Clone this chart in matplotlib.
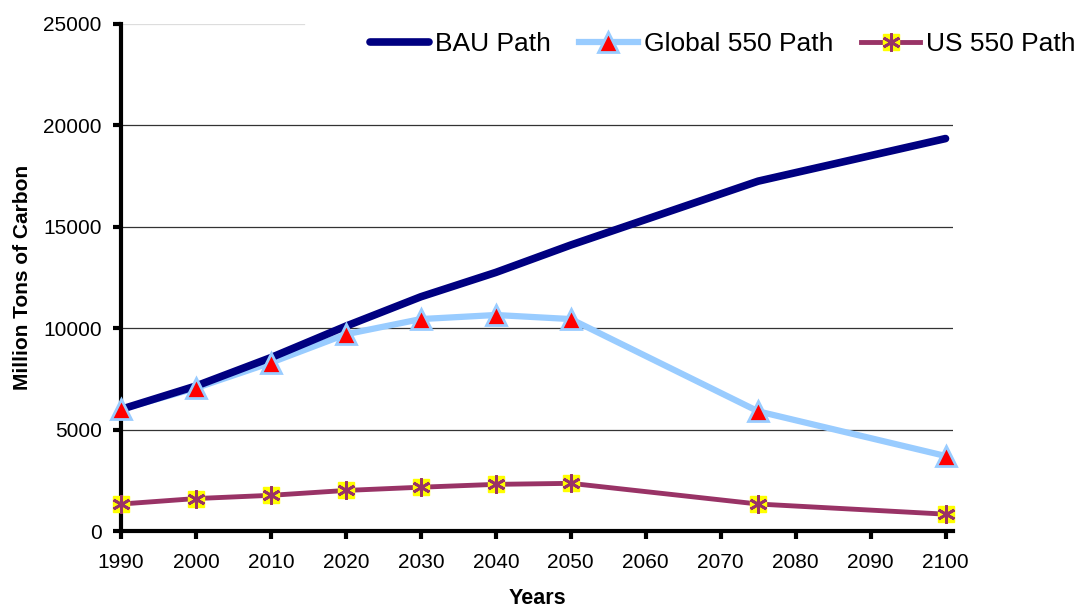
import matplotlib.pyplot as plt
from matplotlib.lines import Line2D

plt.rcParams['font.family'] = ['Liberation Sans', 'DejaVu Sans']

# data (million tons of carbon)
years = [1990, 2000, 2010, 2020, 2030, 2040, 2050, 2075, 2100]
bau = [6000, 7150, 8550, 10100, 11550, 12750, 14100, 17250, 19350]
global_550 = [6000, 7050, 8300, 9700, 10450, 10650, 10450, 5900, 3700]
us_550 = [1330, 1600, 1760, 2000, 2160, 2300, 2350, 1330, 830]

x_ticks = list(range(1990, 2101, 10))
y_ticks = [0, 5000, 10000, 15000, 20000, 25000]

navy = '#000080'
light_blue = '#99CCFF'
purple = '#993366'

fig = plt.figure(figsize=(10.81, 6.07), dpi=100)
ax = fig.add_axes([0.1120, 0.1252, 0.7696, 0.8353])

# lines first, markers on top (like Excel does)
ax.plot(years, global_550, color=light_blue, lw=4.5, zorder=3, solid_joinstyle='round')
ax.plot(years, bau, color=navy, lw=5.5, zorder=4, solid_capstyle='round')
ax.plot(years, us_550, color=purple, lw=3.5, zorder=3)

ax.plot(years, global_550, ls='none', marker='^', ms=14, mfc='red',
        mec=light_blue, mew=2, zorder=9, clip_on=False)
ax.plot(years, us_550, ls='none', marker='s', ms=11, mfc='#FFFF00',
        mec='#FFFF00', zorder=9, clip_on=False)
ax.plot(years, us_550, ls='none', marker=(6, 2, 0), ms=13, mec=purple,
        mew=2, zorder=10, clip_on=False)

ax.set_xlim(1990, 2101)
ax.set_ylim(0, 25000)
ax.set_xticks(x_ticks)
ax.set_yticks(y_ticks)

for y in y_ticks[1:-1]:
    ax.axhline(y, color='#333333', lw=0.9, zorder=1)
ax.axhline(25000, xmax=0.22, color='#dddddd', lw=0.9, zorder=1)

for side in ['top', 'right']:
    ax.spines[side].set_visible(False)
for side in ['left', 'bottom']:
    ax.spines[side].set_linewidth(3)
    ax.spines[side].set_zorder(8)
ax.tick_params(axis='both', length=6, width=3, labelsize=15)
ax.tick_params(axis='x', pad=10)
ax.tick_params(axis='y', pad=8)

ax.set_ylabel('Million Tons of Carbon', fontsize=15, fontweight='bold', labelpad=8)
ax.set_xlabel('Years', fontsize=15.5, fontweight='bold', labelpad=11)

# legend handles
h_bau = Line2D([], [], color=navy, lw=5.5, solid_capstyle='round')
h_glob = Line2D([], [], color=light_blue, lw=4.5, marker='^', ms=14,
                mfc='red', mec=light_blue, mew=2)
h_us_sq = Line2D([], [], color=purple, lw=3.5, marker='s', ms=11,
                 mfc='#FFFF00', mec='#FFFF00')
h_us_ast = Line2D([], [], ls='none', marker=(6, 2, 0), ms=13, mec=purple, mew=2)

leg = fig.legend([h_bau, h_glob, (h_us_sq, h_us_ast)],
                 ['BAU Path', 'Global 550 Path', 'US 550 Path'],
                 ncol=3, loc='center right', bbox_to_anchor=(1.012, 0.927),
                 frameon=True, fancybox=False, edgecolor='white',
                 fontsize=19, handlelength=2.25, handletextpad=0.22,
                 columnspacing=1.05, borderpad=0.2)
leg.get_frame().set_facecolor('white')

fig.savefig('out.png', dpi=100)
